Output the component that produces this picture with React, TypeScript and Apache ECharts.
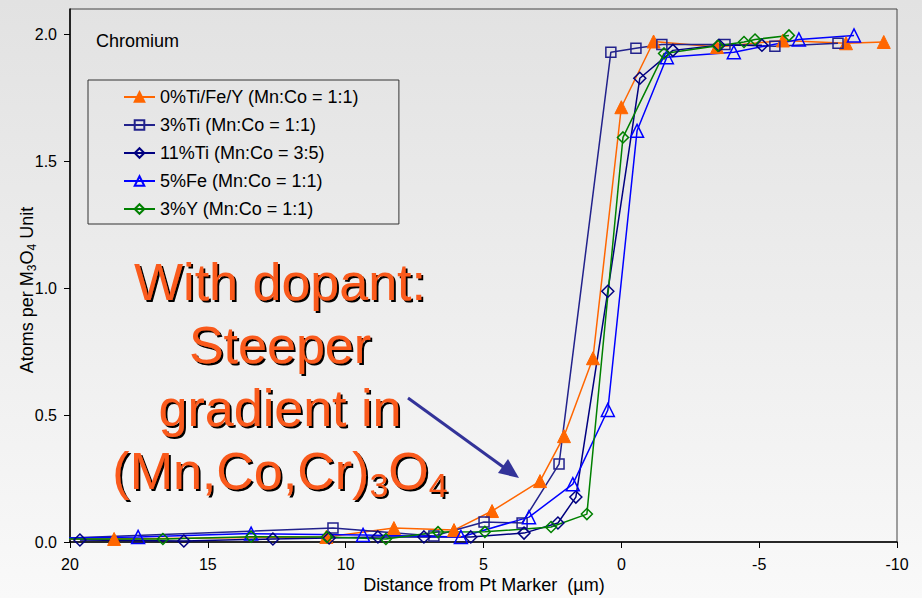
import React, { useEffect, useRef } from 'react';
import * as echarts from 'echarts';

const FONT = '"Liberation Sans", Arial, sans-serif';

const seriesNames = [
  '0%Ti/Fe/Y (Mn:Co = 1:1)',
  '3%Ti (Mn:Co = 1:1)',
  '11%Ti (Mn:Co = 3:5)',
  '5%Fe (Mn:Co = 1:1)',
  '3%Y (Mn:Co = 1:1)',
];

// [distance µm, atoms per M3O4 unit]
const ti0Data = [
  [20.3, 0.012], [18.4, 0.012], [10.7, 0.02], [8.25, 0.055], [6.07, 0.047], [4.69, 0.122],
  [2.95, 0.24], [2.08, 0.417], [1.03, 0.724], [0.0, 1.713], [-1.17, 1.972], [-3.47, 1.95],
  [-5.86, 1.976], [-8.15, 1.965], [-9.52, 1.97],
];
const ti3Data = [
  [20.3, 0.015], [10.46, 0.055], [6.8, 0.024], [4.98, 0.079], [3.6, 0.075], [2.26, 0.307],
  [0.38, 1.93], [-0.53, 1.945], [-1.47, 1.96], [-3.76, 1.96], [-5.57, 1.953], [-7.86, 1.965],
];
const ti11Data = [
  [19.64, 0.008], [15.87, 0.004], [12.64, 0.012], [10.6, 0.016], [8.83, 0.02], [7.16, 0.02],
  [5.46, 0.02], [3.53, 0.035], [2.3, 0.075], [1.65, 0.177], [0.49, 0.988], [-0.67, 1.827],
  [-1.87, 1.937], [-3.54, 1.957], [-5.1, 1.957],
];
const fe5Data = [
  [20.3, 0.015], [17.53, 0.02], [13.43, 0.033], [9.37, 0.028], [5.82, 0.02], [3.35, 0.098],
  [1.76, 0.228], [0.49, 0.52], [-0.57, 1.62], [-1.65, 1.91], [-4.08, 1.93], [-6.44, 1.98],
  [-8.44, 1.996],
];
const y3Data = [
  [20.3, 0.012], [16.63, 0.012], [13.43, 0.021], [10.68, 0.02], [8.54, 0.012], [6.65, 0.039],
  [4.95, 0.04], [2.55, 0.059], [1.25, 0.11], [-0.06, 1.594], [-1.55, 1.925], [-3.5, 1.955],
  [-4.45, 1.97], [-4.85, 1.98], [-6.08, 1.996],
];

const yTicks = [0, 0.5, 1.0, 1.5, 2.0];
const xTicks = [-10, -5, 0, 5, 10, 15, 20];

const ORANGE = '#ff6600';
const NAVY1 = '#22228c';
const NAVY2 = '#000080';
const BLUE = '#0000ff';
const GREEN = '#008000';
const NOTE = '#fa5a1c';

function mkSeries(name: string, data: number[][], color: string, symbol: string, size: number, filled: boolean) {
  return {
    name,
    type: 'line',
    data,
    symbol,
    symbolSize: size,
    showSymbol: true,
    clip: true,
    lineStyle: { color, width: 1.5 },
    itemStyle: filled
      ? { color, borderColor: color, borderWidth: 1 }
      : { color: 'transparent', borderColor: color, borderWidth: 1.5 },
    emphasis: { disabled: true },
    z: 3,
  };
}

export default function App() {
  const ref = useRef<HTMLDivElement>(null);
  useEffect(() => {
    const chart = echarts.init(ref.current!, null, { renderer: 'svg' });
    const shadow = { textShadowColor: '#000', textShadowOffsetX: 2, textShadowOffsetY: 2, textShadowBlur: 1 };
    chart.setOption({
      animation: false,
      backgroundColor: 'transparent',
      textStyle: { fontFamily: FONT },
      grid: {
        left: 70, right: 25, top: 9, bottom: 56,
        show: true, borderColor: '#444', borderWidth: 1, backgroundColor: 'transparent',
      },
      xAxis: {
        type: 'value', inverse: true, min: -10, max: 20, interval: 5,
        axisLine: { show: true, onZero: false, lineStyle: { color: '#000', width: 1.5 } },
        axisTick: { show: true, inside: false, length: 6, lineStyle: { color: '#000' } },
        axisLabel: {
          customValues: xTicks,
          fontSize: 16, color: '#000', margin: 14, fontFamily: FONT,
          formatter: (v: number) => String(v),
        },
        splitLine: { show: false },
      },
      yAxis: {
        type: 'value', min: 0, max: 2.1, interval: 0.5,
        axisLine: { show: true, onZero: false, lineStyle: { color: '#000', width: 1.5 } },
        axisTick: { show: true, inside: false, length: 6, customValues: yTicks, lineStyle: { color: '#000' } },
        axisLabel: {
          customValues: yTicks,
          fontSize: 16, color: '#000', margin: 13, fontFamily: FONT,
          formatter: (v: number) => v.toFixed(1),
        },
        splitLine: { show: false },
      },
      legend: {
        orient: 'vertical', left: 88, top: 80,
        data: seriesNames,
        itemWidth: 31, itemHeight: 12, itemGap: 10,
        padding: [8, 40, 6, 35],
        borderColor: '#333', borderWidth: 1,
        textStyle: { fontSize: 18, color: '#000', fontFamily: FONT },
        selectedMode: false,
      },
      series: [
        mkSeries(seriesNames[0], ti0Data, ORANGE, 'triangle', 13, true),
        mkSeries(seriesNames[1], ti3Data, NAVY1, 'rect', 10, false),
        mkSeries(seriesNames[2], ti11Data, NAVY2, 'diamond', 12, false),
        mkSeries(seriesNames[3], fe5Data, BLUE, 'triangle', 13, false),
        mkSeries(seriesNames[4], y3Data, GREEN, 'diamond', 11, false),
      ],
      graphic: [
        {
          type: 'text', left: 96, top: 32, z: 10,
          style: { text: 'Chromium', fontSize: 18, fontFamily: FONT, fill: '#000' },
        },
        {
          type: 'text', x: 27, y: 290, rotation: Math.PI / 2, z: 10,
          style: {
            text: '{a|Atoms per M}{b|3}{a|O}{b|4}{a| Unit}',
            align: 'center', verticalAlign: 'middle', fill: '#000',
            rich: {
              a: { fontSize: 18, lineHeight: 22, fontFamily: FONT, fill: '#000' },
              b: { fontSize: 12, lineHeight: 12, verticalAlign: 'bottom', fontFamily: FONT, fill: '#000' },
            },
          },
        },
        {
          type: 'text', x: 484, y: 585, z: 10,
          style: {
            text: 'Distance from Pt Marker  (µm)', fontSize: 18, fontFamily: FONT, fill: '#000',
            align: 'center', verticalAlign: 'middle',
          },
        },
        {
          type: 'text', x: 280, y: 250, z: 20,
          style: {
            text: '{m|With dopant:}\n{m|Steeper}\n{m|gradient in}\n{m|(Mn,Co,Cr)}{s|3}{m|O}{s|4}',
            align: 'center', verticalAlign: 'top', fill: NOTE,
            fontSize: 52, fontFamily: FONT,
            ...shadow,
            rich: {
              m: { fontSize: 52, lineHeight: 63, fontFamily: FONT, fill: NOTE, align: 'center', ...shadow },
              s: { fontSize: 34, lineHeight: 26, verticalAlign: 'bottom', fontFamily: FONT, fill: NOTE, align: 'center', ...shadow },
            },
          },
        },
        {
          type: 'line', z: 20,
          shape: { x1: 408, y1: 398, x2: 506, y2: 469 },
          style: { stroke: '#333399', lineWidth: 3 },
        },
        {
          type: 'polygon', z: 20,
          shape: { points: [[519, 478], [498, 473], [508, 459]] },
          style: { fill: '#333399' },
        },
      ],
    });
    return () => chart.dispose();
  }, []);
  return (
    <div
      ref={ref}
      style={{
        position: 'fixed', left: 0, top: 0, width: 922, height: 598,
        background: 'linear-gradient(to bottom, #e2e2e2 0%, #ececec 45%, #f9f9f9 100%)',
      }}
    />
  );
}
